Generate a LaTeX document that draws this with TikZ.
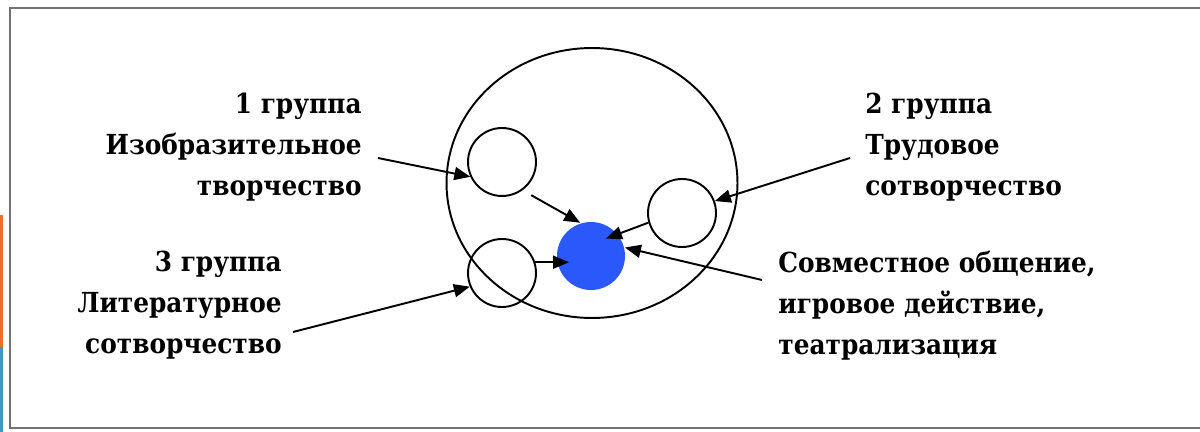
\documentclass[tikz,border=0pt]{standalone}
\usepackage{fontspec}
\setmainfont{DejaVu Serif Condensed}
\usetikzlibrary{positioning,arrows.meta,shapes.geometric}

\definecolor{coreblue}{RGB}{42,88,250}
\definecolor{framegray}{RGB}{115,115,115}
\definecolor{stripor}{RGB}{240,110,40}
\definecolor{stripbl}{RGB}{60,155,190}

\begin{document}
\begin{tikzpicture}[x=0.02cm, y=-0.02cm,
  ring/.style = {draw, circle, line width=1.1pt, minimum size=1.36cm, inner sep=0pt},
  lbl/.style = {font=\rmfamily\bfseries\fontsize{15.7}{23.3}\selectfont, inner sep=0pt},
  arr/.style = {line width=1.1pt, -{Triangle[length=0.32cm, width=0.26cm]}}]
\useasboundingbox (0,0) rectangle (1200,432);

% frame and side strips
\fill[stripor] (0,215) rectangle (3,347);
\fill[stripbl] (0,347) rectangle (3,432);
\draw[framegray, line width=1.6pt] (1200,8) -- (10,8) -- (10,428) -- (1200,428);

% circles
\node[draw, ellipse, line width=1.1pt, minimum width=5.82cm, minimum height=5.4cm, inner sep=0pt] (whole) at (592,183) {};
\node[ring] (c1) at (502,162) {};
\node[ring] (c2) at (682,213) {};
\node[ring] (c3) at (502,273) {};
\node[ring, draw=none, fill=coreblue] (core) at (591,256) {};

% labels
\node[lbl, align=right, anchor=east] (lab1) at (362,147) {1 группа\\Изобразительное\\творчество};
\node[lbl, align=left, anchor=west] (lab2) at (865,147) {2 группа\\Трудовое\\сотворчество};
\node[lbl, align=right, anchor=east] (lab3) at (282,305) {3 группа\\Литературное\\сотворчество};
\node[lbl, align=left, anchor=west] (lab4) at (778,306) {Совместное общение,\\игровое действие,\\театрализация};

\coordinate (t1) at (378,158);
\coordinate (t2) at (850,158);
\coordinate (t3) at (293,332);
\coordinate (t4) at (762,280);

% arrows
\draw[arr] (t1) -- (c1.205);
\draw[arr] (t2) -- (c2.20);
\draw[arr] (t3) -- (c3.203);
\draw[arr] (t4) -- (core.14);
\draw[arr, shorten <=0.2cm] (c1.-54) -- (core.108);
\draw[arr, shorten >=-0.26cm] (c2.196) -- (core.39);
\draw[arr, shorten >=-0.26cm] (c3.18) -- (c3.18 -| core.west);

\end{tikzpicture}
\end{document}
